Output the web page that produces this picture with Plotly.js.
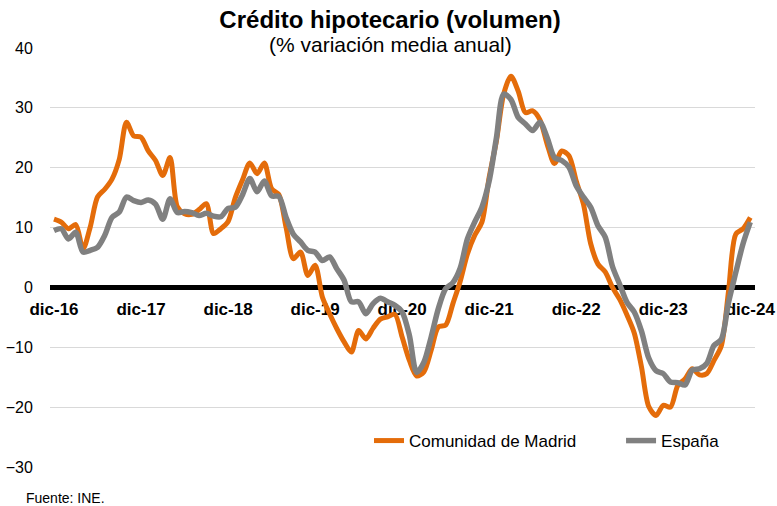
<!DOCTYPE html>
<html>
<head>
<meta charset="utf-8">
<script src="https://cdn.plot.ly/plotly-3.0.1.min.js"></script>
<style>
html,body{margin:0;padding:0;background:#fff;}
#chart{width:777px;height:506px;}
</style>
</head>
<body>
<div id="chart"></div>
<script>
// Monthly series, dic-16 .. dic-24 (97 months)
const madrid = [
  11.4, 10.9, 9.8, 10.5, 6.4, 10.1, 15.1, 16.4, 18.1, 21.4, 27.6, 25.3,
  25.1, 22.8, 21.2, 18.7, 21.7, 13.5, 12.3, 12.2, 13.0, 14.0, 9.0, 9.8,
  11.0, 15.0, 18.0, 20.8, 19.0, 20.8, 16.5, 15.5, 10.0, 4.8, 5.9, 2.0,
  3.7, -1.6, -4.4, -6.9, -9.1, -10.8, -7.2, -8.6, -6.8, -5.3, -4.9, -4.5,
  -8.3, -12.2, -14.8, -14.1, -10.5, -6.6, -6.3, -2.7, 1.0, 5.6, 8.7, 10.9,
  18.4, 24.5, 32.3, 35.3, 32.8, 29.2, 29.5, 28.0, 23.9, 20.7, 22.8, 22.0,
  17.8, 13.9, 7.3, 3.9, 2.6, 0.0, -2.0, -4.6, -7.6, -13.3, -19.9, -21.4,
  -19.7, -20.0, -16.4, -15.3, -13.6, -14.6, -14.4, -12.2, -9.8, -0.6, 8.9, 9.8,
  11.7
];
const espana = [
  9.5, 9.8, 8.1, 9.2, 5.9, 6.2, 6.7, 8.7, 11.7, 12.6, 15.1, 14.5,
  14.2, 14.6, 13.9, 11.4, 14.8, 12.5, 12.7, 12.5, 12.0, 12.4, 11.9, 11.8,
  13.2, 13.4, 15.5, 18.2, 16.0, 17.8, 15.3, 15.2, 11.7, 8.9, 7.6, 6.2,
  5.9, 4.5, 5.1, 3.1, 1.2, -2.4, -2.4, -4.4, -2.7, -1.8, -2.4, -3.0,
  -4.1, -8.0, -14.2, -12.5, -8.3, -3.5, -0.2, 0.8, 3.2, 8.1, 10.9, 13.4,
  17.8, 25.0, 32.3, 31.4, 28.4, 27.3, 26.2, 27.6, 25.0, 21.7, 21.2, 20.1,
  17.0, 15.1, 13.4, 10.3, 8.4, 3.5, 0.5, -2.5, -4.1, -7.3, -11.8, -13.9,
  -14.4, -15.8, -15.9, -16.3, -13.8, -13.6, -12.7, -9.7, -8.7, -2.5, 2.5, 7.3,
  10.9
];
const tickLabels = ['dic-16','dic-17','dic-18','dic-19','dic-20','dic-21','dic-22','dic-23','dic-24'];
const seriesNames = ['Comunidad de Madrid', 'España'];

const months = madrid.map((_, i) => i);
const tickVals = tickLabels.map((_, i) => i * 12);

const FONT = 'Liberation Sans, Arial, sans-serif';

const traces = [
  {
    x: months, y: madrid, name: seriesNames[0], type: 'scatter', mode: 'lines',
    legend: 'legend',
    line: {color: '#E46C0A', width: 5, shape: 'spline', smoothing: 0.8}
  },
  {
    x: months, y: espana, name: seriesNames[1], type: 'scatter', mode: 'lines',
    legend: 'legend2',
    line: {color: '#808080', width: 5.5, shape: 'spline', smoothing: 0.8}
  }
];

const legendFont = {family: FONT, size: 17, color: '#000'};

const layout = {
  width: 777, height: 506,
  margin: {l: 50, r: 22, t: 48, b: 39},
  paper_bgcolor: '#ffffff', plot_bgcolor: '#ffffff',
  font: {family: FONT, color: '#000'},
  title: {
    text: '<b>Crédito hipotecario (volumen)</b>',
    font: {family: FONT, size: 24, color: '#000'},
    xref: 'container', x: 0.502, xanchor: 'center',
    yref: 'container', y: 1 - 20/506, yanchor: 'middle'
  },
  xaxis: {
    range: [-0.55, 96.65],
    tickmode: 'array', tickvals: tickVals, ticktext: tickLabels,
    tickfont: {family: FONT, size: 17, color: '#000', weight: 'bold'},
    ticks: 'outside', ticklen: 4, tickcolor: 'rgba(0,0,0,0)',
    anchor: 'free', position: 30/70,
    showline: true, linecolor: '#000', linewidth: 5,
    showgrid: false, zeroline: false, layer: 'below traces', fixedrange: true
  },
  yaxis: {
    range: [-30, 40], dtick: 10, tick0: 0,
    tickfont: {family: FONT, size: 16, color: '#000'},
    ticks: 'outside', ticklen: 13, tickcolor: 'rgba(0,0,0,0)',
    showgrid: true, gridcolor: '#d9d9d9', gridwidth: 1,
    zeroline: false, showline: false, fixedrange: true
  },
  showlegend: true,
  legend: {
    orientation: 'h', x: 0.4525, xanchor: 'left', y: 0.062, yanchor: 'middle',
    font: legendFont, bgcolor: 'rgba(0,0,0,0)'
  },
  legend2: {
    orientation: 'h', x: 0.81, xanchor: 'left', y: 0.062, yanchor: 'middle',
    font: legendFont, bgcolor: 'rgba(0,0,0,0)'
  },
  annotations: [
    {
      text: '(% variación media anual)', xref: 'paper', yref: 'paper',
      x: (390 - 50) / 705, y: (467 - 45) / 419, xanchor: 'center', yanchor: 'middle',
      showarrow: false, font: {family: FONT, size: 21, color: '#000'}
    },
    {
      text: 'Fuente: INE.', xref: 'paper', yref: 'paper',
      x: (24 - 50) / 705, y: (467 - 498) / 419, xanchor: 'left', yanchor: 'middle',
      showarrow: false, font: {family: FONT, size: 14, color: '#000'}
    }
  ]
};

Plotly.newPlot('chart', traces, layout, {displayModeBar: false, staticPlot: true});
</script>
</body>
</html>
